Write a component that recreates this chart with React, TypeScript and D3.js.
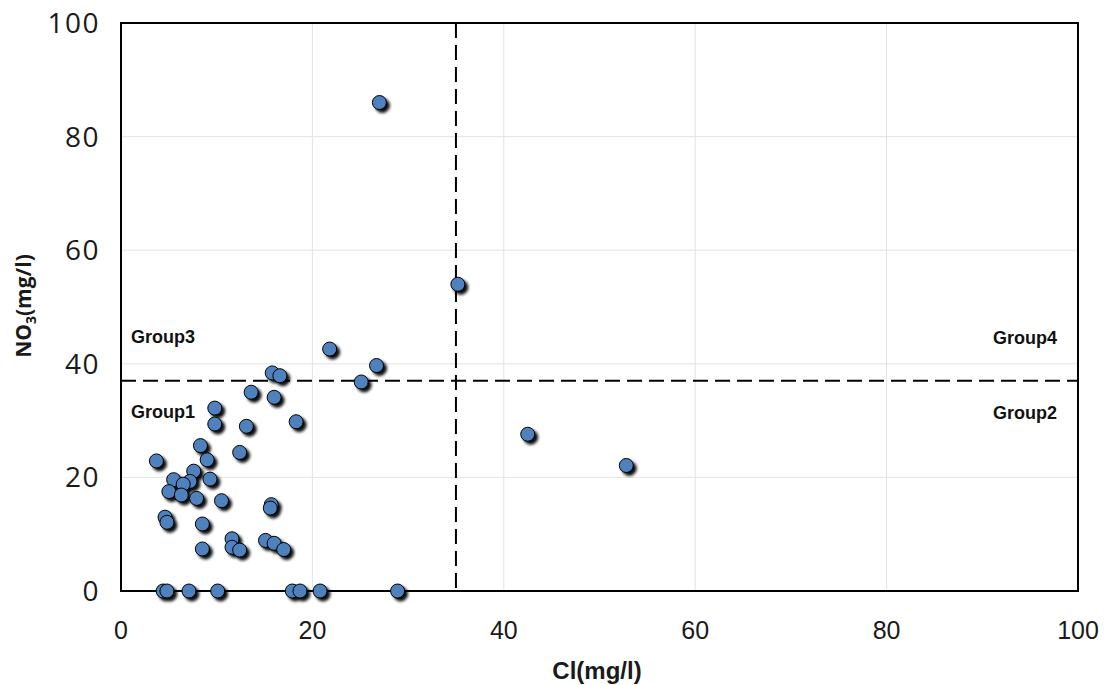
import React from "react";
import * as d3 from "d3";

const clValues = [
  27.0, 35.2, 21.8, 26.7, 25.1, 15.8, 16.6, 13.6, 16.0, 9.8,
  9.8, 13.1, 18.3, 8.3, 12.4, 3.7, 9.0, 7.6, 5.5, 7.2,
  6.5, 9.3, 5.0, 6.3, 7.9, 10.5, 15.7, 15.6, 4.6, 4.8,
  8.5, 11.6, 11.6, 12.4, 15.1, 16.0, 17.0, 8.5, 42.5, 52.8,
  4.4, 4.8, 7.1, 10.1, 17.9, 18.7, 20.8, 28.9,
];
const no3Values = [
  86.0, 54.0, 42.6, 39.7, 36.8, 38.4, 37.9, 35.0, 34.1, 32.2,
  29.4, 29.0, 29.8, 25.6, 24.4, 22.9, 23.1, 21.1, 19.6, 19.3,
  18.8, 19.7, 17.5, 16.9, 16.3, 15.9, 15.2, 14.6, 13.0, 12.1,
  11.8, 9.2, 7.7, 7.2, 8.9, 8.4, 7.3, 7.4, 27.6, 22.1,
  0, 0, 0, 0, 0, 0, 0, 0,
];
const xTicks = [0, 20, 40, 60, 80, 100];
const yTicks = [0, 20, 40, 60, 80, 100];
const clThreshold = 35;
const no3Threshold = 37;
const groupLabels = ["Group1", "Group2", "Group3", "Group4"];

export default function App() {
  const W = 1104, H = 685;
  const left = 121, right = 1078, top = 23, bottom = 591;
  const x = d3.scaleLinear().domain([0, 100]).range([left, right]);
  const y = d3.scaleLinear().domain([0, 100]).range([bottom, top]);
  const lib = "'Liberation Sans', Arial, sans-serif";
  const open = "'Open Sans', 'Liberation Sans', sans-serif";
  const pts = clValues.map((c, i) => ({ c, n: no3Values[i] }));
  return (
    <svg width={W} height={H} style={{ position: "absolute", left: 0, top: 0, background: "#fff" }}>
      <defs>
        <filter id="sh" x="-50%" y="-50%" width="200%" height="200%">
          <feGaussianBlur in="SourceAlpha" stdDeviation="1.8" />
          <feOffset dx="2.5" dy="2.5" result="ob" />
          <feComponentTransfer><feFuncA type="linear" slope="0.95" /></feComponentTransfer>
          <feMerge><feMergeNode /><feMergeNode in="SourceGraphic" /></feMerge>
        </filter>
      </defs>
      <rect x={0} y={0} width={W} height={H} fill="#fff" />
      {xTicks.slice(1, -1).map((t) => (
        <line key={"gx" + t} x1={x(t)} x2={x(t)} y1={top} y2={bottom} stroke="#e3e3e3" strokeWidth={1} />
      ))}
      {yTicks.slice(1, -1).map((t) => (
        <line key={"gy" + t} x1={left} x2={right} y1={y(t)} y2={y(t)} stroke="#e3e3e3" strokeWidth={1} />
      ))}
      <line x1={x(clThreshold)} x2={x(clThreshold)} y1={top} y2={bottom} stroke="#000" strokeWidth={2} strokeDasharray="15,7" />
      <line x1={left} x2={right} y1={y(no3Threshold)} y2={y(no3Threshold)} stroke="#000" strokeWidth={2} strokeDasharray="15,7" />
      <rect x={left} y={top} width={right - left} height={bottom - top} fill="none" stroke="#000" strokeWidth={2} />
      <g filter="url(#sh)">
        {pts.map((p, i) => (
          <circle key={i} cx={x(p.c)} cy={y(p.n)} r={7} fill="#4F81BD" stroke="#000" strokeWidth={1} />
        ))}
      </g>
      {xTicks.map((t) => (
        <text key={"xt" + t} x={x(t)} y={639} textAnchor="middle" fontFamily={lib} fontSize={25} fill="#1a1a1a">{t}</text>
      ))}
      {yTicks.map((t) => (
        <text key={"yt" + t} x={100} y={y(t) + 10} textAnchor="end" fontFamily={open} fontSize={28} letterSpacing={1.5} fill="#1a1a1a">{t}</text>
      ))}
      <text x={597} y={679} textAnchor="middle" fontFamily={lib} fontWeight="bold" fontSize={24} fill="#1a1a1a">Cl(mg/l)</text>
      <text transform={`translate(31, 306) rotate(-90)`} textAnchor="middle" fontFamily={open} fontWeight="bold" fontSize={21} fill="#1a1a1a">
        NO<tspan fontSize={14} dy={5}>3</tspan><tspan dy={-5}>(mg/l)</tspan>
      </text>
      <text x={131} y={418} fontFamily={lib} fontWeight="bold" fontSize={18} fill="#111">{groupLabels[0]}</text>
      <text x={1057} y={419} textAnchor="end" fontFamily={lib} fontWeight="bold" fontSize={18} fill="#111">{groupLabels[1]}</text>
      <text x={131} y={343} fontFamily={lib} fontWeight="bold" fontSize={18} fill="#111">{groupLabels[2]}</text>
      <text x={1057} y={344} textAnchor="end" fontFamily={lib} fontWeight="bold" fontSize={18} fill="#111">{groupLabels[3]}</text>
    </svg>
  );
}
